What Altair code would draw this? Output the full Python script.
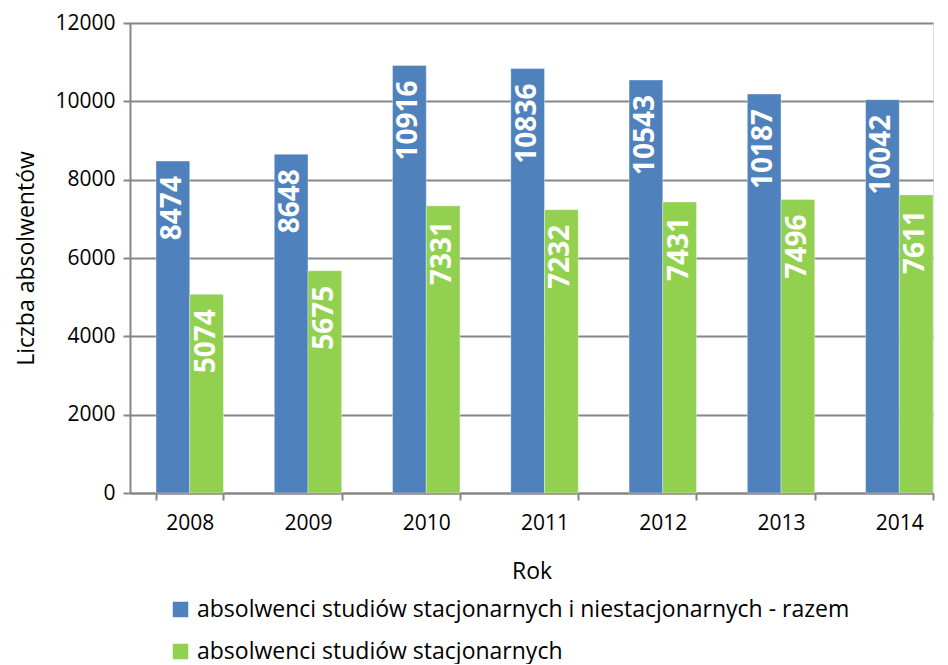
import altair as alt
import pandas as pd

years = ["2008", "2009", "2010", "2011", "2012", "2013", "2014"]
series_total = "absolwenci studiów stacjonarnych i niestacjonarnych - razem"
series_full = "absolwenci studiów stacjonarnych"
total = [8474, 8648, 10916, 10836, 10543, 10187, 10042]
fulltime = [5074, 5675, 7331, 7232, 7431, 7496, 7611]

rows = []
for i, y in enumerate(years):
    rows.append({"Rok": y, "seria": series_total, "ord": 0, "val": total[i]})
    rows.append({"Rok": y, "seria": series_full, "ord": 1, "val": fulltime[i]})
df = pd.DataFrame(rows)

FONT = "Open Sans"
xenc = alt.X("Rok:N", title="Rok",
             scale=alt.Scale(paddingInner=0.43, paddingOuter=0.11, align=1),
             axis=alt.Axis(labelAngle=0, tickBand="extent", labelFontSize=21,
                           titleFontSize=23, titlePadding=27, labelPadding=12,
                           domainColor="#868686", tickColor="#868686",
                           domainWidth=2, tickWidth=2, tickSize=7,
                           labelColor="#000", titleColor="#000",
                           labelFont=FONT, titleFont=FONT, titleFontWeight="normal"))
xoff = alt.XOffset("ord:O")

base = alt.Chart(df)
bars = base.mark_bar(stroke="#ffffff", strokeOpacity=0.35, strokeWidth=1).encode(
    x=xenc,
    xOffset=xoff,
    y=alt.Y("val:Q", title="Liczba absolwentów",
            scale=alt.Scale(domain=[0, 12000]),
            axis=alt.Axis(values=[0, 2000, 4000, 6000, 8000, 10000, 12000], format="d",
                          labelFontSize=21, titleFontSize=23, labelPadding=8,
                          titlePadding=16, domainColor="#868686", tickColor="#868686",
                          gridColor="#868686", gridWidth=2, domainWidth=2, tickWidth=2,
                          tickSize=7, labelColor="#000", titleColor="#000",
                          labelFont=FONT, titleFont=FONT, titleFontWeight="normal")),
    color=alt.Color("seria:N",
                    scale=alt.Scale(domain=[series_total, series_full],
                                    range=["#4F81BD", "#92D050"]),
                    legend=alt.Legend(title=None, orient="none", legendX=39, legendY=575,
                                      direction="vertical", symbolType="square",
                                      symbolSize=240, symbolStrokeWidth=0,
                                      labelFontSize=23, labelFont=FONT, labelColor="#000",
                                      rowPadding=18, labelOffset=5, labelLimit=800)),
)
labels = base.mark_text(angle=270, align="right", baseline="middle", dx=-15,
                        color="white", fontWeight="bold", fontSize=28, font=FONT).encode(
    x=alt.X("Rok:N"),
    xOffset=xoff,
    y=alt.Y("val:Q"),
    text=alt.Text("val:Q", format="d"),
)

chart = alt.layer(bars, labels).properties(
    width=803, height=470,
    padding={"left": 7, "top": 4, "right": 2, "bottom": 0},
).configure_view(stroke=None).configure(font=FONT)

chart.save("out.html", embed_options={"renderer": "svg", "actions": False})
